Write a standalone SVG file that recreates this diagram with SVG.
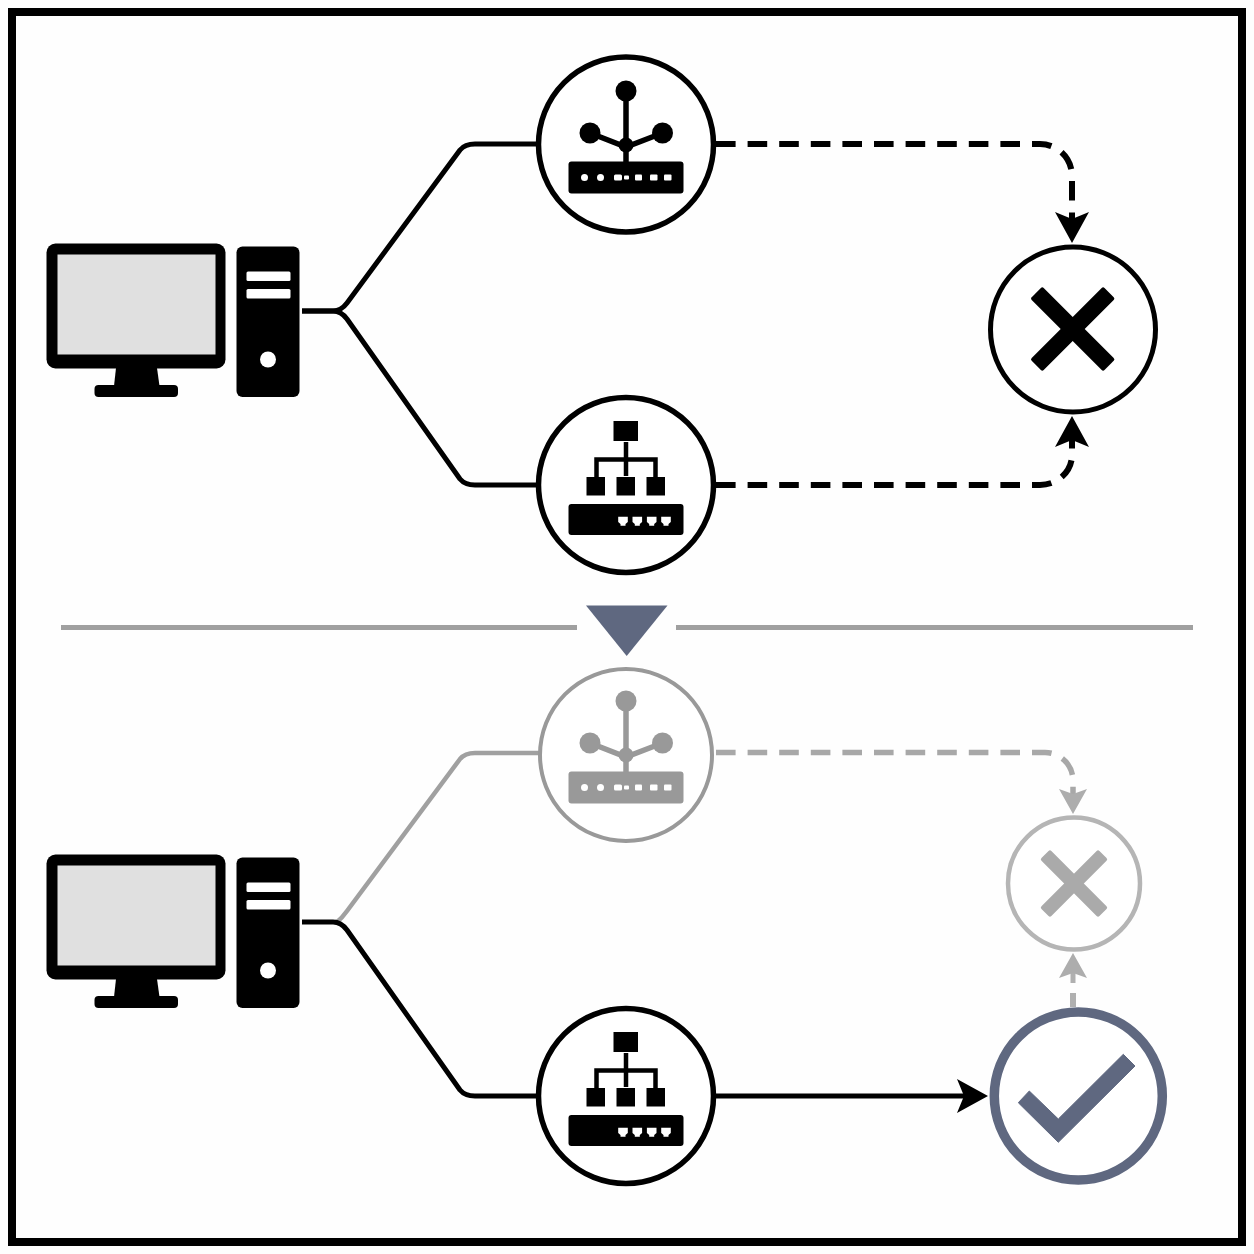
<svg xmlns="http://www.w3.org/2000/svg" width="1254" height="1254" viewBox="0 0 1254 1254">
<style>
.wire{fill:none;stroke:#000;stroke-width:5;stroke-linejoin:round}
.dash{fill:none;stroke:#000;stroke-width:6;stroke-dasharray:19.6 12}
.wire.faded{stroke:#a0a0a0;stroke-width:4.5}
.dash.faded{stroke:#a8a8a8;stroke-width:5.5}
.stub{fill:none;stroke:#b0b0b0;stroke-width:6}
.ring{fill:#fff;stroke:#000;stroke-width:5.5}
.ring.g{stroke:#999;stroke-width:4}
.ic{fill:currentColor}
.icl{fill:none;stroke:currentColor;stroke-width:5.5}
.hole{fill:#fff}
.k{color:#000}
.g{color:#999}
</style>
<defs>
<marker id="ah" markerUnits="userSpaceOnUse" viewBox="0 -18 32 36" refX="20" refY="0" markerWidth="32" markerHeight="36" orient="auto"><path d="M0 -17L31 0L0 17L7 0Z" fill="#000"/></marker>
<marker id="ahg" markerUnits="userSpaceOnUse" viewBox="0 -15 26 30" refX="16" refY="0" markerWidth="26" markerHeight="30" orient="auto"><path d="M0 -14L25 0L0 14L5 0Z" fill="#adadad"/></marker>
<g id="computer">
<rect x="46.500" y="243.500" width="179" height="125" rx="9" fill="#000"/>
<rect x="57.500" y="254.500" width="158" height="100" fill="#e0e0e0"/>
<path d="M116 368H157L159.500 386H114Z" fill="#000"/>
<rect x="94.500" y="385" width="83.500" height="12" rx="4" fill="#000"/>
<rect x="236.500" y="246.500" width="63" height="150.500" rx="6" fill="#000"/>
<rect x="246.500" y="271.500" width="44" height="9.500" rx="1.500" fill="#fff"/>
<rect x="246.500" y="289" width="44" height="9.500" rx="1.500" fill="#fff"/>
<circle cx="268" cy="359.500" r="8" fill="#fff"/>
</g>
<g id="router">
<path class="icl" d="M626 91V165M590 133L626 147L662.500 133"/>
<circle class="ic" cx="626" cy="91" r="10.500"/>
<circle class="ic" cx="590" cy="133" r="10.500"/>
<circle class="ic" cx="662.500" cy="133" r="10.500"/>
<circle class="ic" cx="626" cy="145" r="7.500"/>
<rect class="ic" x="568.500" y="161.500" width="115" height="32" rx="3"/>
<circle class="hole" cx="584.500" cy="177.500" r="3.500"/>
<circle class="hole" cx="600.500" cy="177.500" r="3.500"/>
<rect class="hole" x="614" y="174.500" width="8" height="6" rx="1.500"/>
<rect class="hole" x="624" y="175.500" width="5" height="4" rx="1"/>
<rect class="hole" x="635" y="174.500" width="7" height="6" rx="1"/>
<rect class="hole" x="650" y="174.500" width="7.500" height="6" rx="1"/>
<rect class="hole" x="664" y="174.500" width="7.500" height="6" rx="1"/>
</g>
<path id="port" class="hole" d="M618.200 516.700H627.800V522L625.500 524V525.700H620.500V524L618.200 522Z"/>
<g id="switch">
<rect class="ic" x="613.500" y="421" width="24.500" height="20"/>
<path class="icl" style="stroke-width:4.500" d="M626 442V476M596.500 477V459.500H655.500V477"/>
<rect class="ic" x="586.500" y="477" width="18.500" height="18.500"/>
<rect class="ic" x="616.500" y="477" width="18.500" height="18.500"/>
<rect class="ic" x="646.500" y="477" width="18.500" height="18.500"/>
<rect class="ic" x="568.500" y="504" width="115" height="31" rx="3"/>
<use href="#port"/>
<use href="#port" x="14.300"/>
<use href="#port" x="28.700"/>
<use href="#port" x="43"/>
</g>
</defs>
<rect width="1254" height="1254" fill="#fefefe"/>
<rect x="12" y="12" width="1230" height="1230" fill="none" stroke="#000" stroke-width="8"/>
<g id="connectors">
<path class="wire" d="M302 311H333Q341 311 347 303L460 150Q465 144 475 144H537"/>
<path class="wire" d="M302 311H333Q341 311 347 319L460 479Q465 485 475 485H537"/>
<path class="dash" d="M716 144H1040A32 32 0 0 1 1072 176V232" marker-end="url(#ah)"/>
<path class="dash" d="M716 485H1040A32 30 0 0 0 1072 455V427" marker-end="url(#ah)"/>
<path class="wire faded" d="M335 922H337Q342 918 347 911L460 759Q465 753 475 753H539"/>
<path class="wire" d="M302 922H333Q341 922 347 930L460 1090Q465 1096 475 1096H537"/>
<path class="dash faded" d="M716 752.500H1045A28 28 0 0 1 1073 780.500V805" marker-end="url(#ahg)"/>
<path class="wire" d="M716 1096H977" marker-end="url(#ah)"/>
<path class="stub" d="M1073 1007V993"/>
<path class="stub" style="stroke-width:5" d="M1073 983V962" marker-end="url(#ahg)"/>
<path d="M61 627.500H577M676 627.500H1193" fill="none" stroke="#a0a0a0" stroke-width="5"/>
</g>
<use id="node-computer-top" href="#computer"/>
<g id="node-router-top" class="k"><circle class="ring" cx="626" cy="144.500" r="87.500"/><use href="#router"/></g>
<g id="node-switch-top" class="k"><circle class="ring" cx="626" cy="485" r="87.500"/><use href="#switch"/></g>
<g id="node-fail-top">
<circle cx="1073" cy="329.500" r="82.500" fill="#fff" stroke="#000" stroke-width="5"/>
<g transform="translate(1072.700 329) rotate(45)" fill="#000"><rect x="-51.500" y="-8.500" width="103" height="17" rx="2"/><rect x="-8.500" y="-51.500" width="17" height="103" rx="2"/></g>
</g>
<polygon id="node-divider-arrow" points="586,605.500 667.500,605.500 626.700,656" fill="#5f6880"/>
<use id="node-computer-bottom" href="#computer" y="611"/>
<g id="node-router-bottom" class="g"><circle class="ring g" cx="626" cy="755" r="86"/><use href="#router" y="610"/></g>
<g id="node-switch-bottom" class="k"><circle class="ring" cx="626" cy="1096" r="87.500"/><use href="#switch" y="611"/></g>
<g id="node-fail-bottom">
<circle cx="1074" cy="883.500" r="66" fill="#fff" stroke="#b5b5b5" stroke-width="4.500"/>
<g transform="translate(1074 883.500) rotate(45)" fill="#aaa"><rect x="-41" y="-7" width="82" height="14" rx="2"/><rect x="-7" y="-41" width="14" height="82" rx="2"/></g>
</g>
<g id="node-ok">
<circle cx="1078.300" cy="1096" r="84" fill="#fff" stroke="#5f6880" stroke-width="9.500"/>
<polygon points="1018.300,1102.700 1029.300,1091 1058.300,1119 1123.300,1054.300 1135,1066 1058.300,1142.300" fill="#5f6880" stroke="#5f6880" stroke-width="1" stroke-linejoin="round"/>
</g>
</svg>
